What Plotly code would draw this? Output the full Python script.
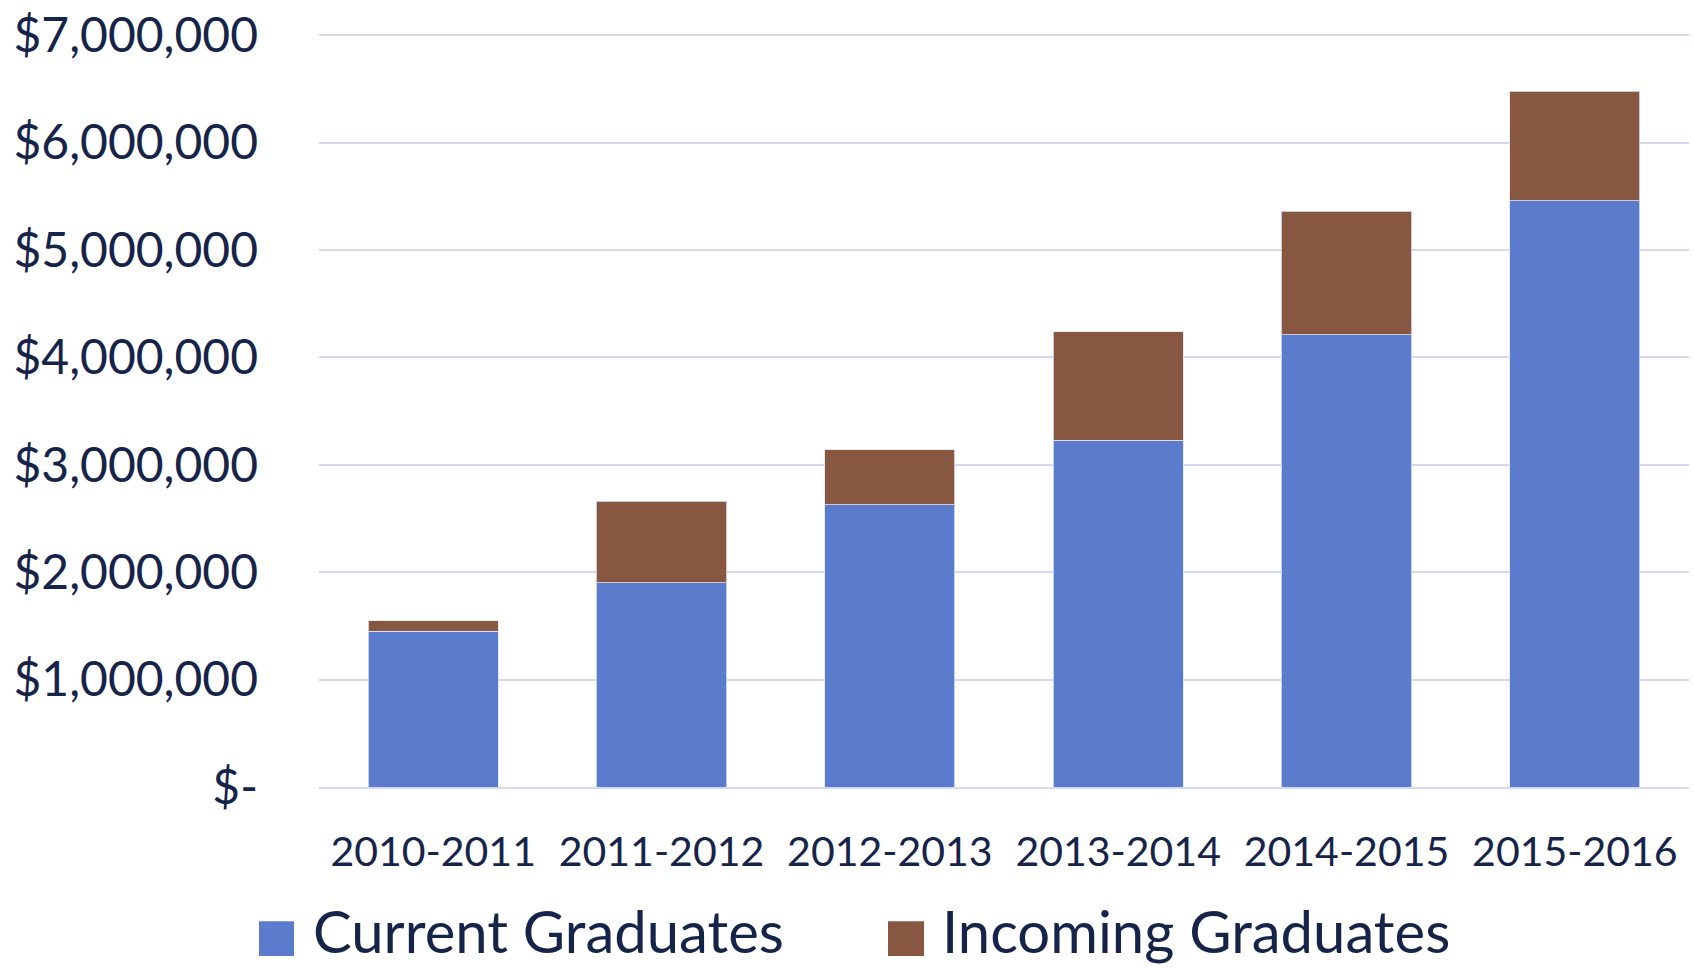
import plotly.graph_objects as go

# ---- data ----
years = ["2010-2011", "2011-2012", "2012-2013", "2013-2014", "2014-2015", "2015-2016"]
current_graduates = [1450000, 1900000, 2630000, 3230000, 4210000, 5460000]
incoming_graduates = [100000, 760000, 510000, 1010000, 1150000, 1020000]
series_names = ["Current Graduates", "Incoming Graduates"]
tick_values = [0, 1000000, 2000000, 3000000, 4000000, 5000000, 6000000, 7000000]
tick_labels = ["$-", "$1,000,000", "$2,000,000", "$3,000,000", "$4,000,000",
               "$5,000,000", "$6,000,000", "$7,000,000"]

BLUE = "#5B7CCC"
BROWN = "#875741"
TEXT = "#17244A"
GRID = "#D3DAF0"
FONT = "Lato"

W, H = 1694, 968
ML, MR, MT, MB = 319, 5, 28, 181
PW = W - ML - MR
PH = H - MT - MB

def px_to_paper_x(px):
    return (px - ML) / PW

def px_to_paper_y(py):
    return (H - MB - py) / PH

fig = go.Figure()
fig.add_trace(go.Bar(x=years, y=current_graduates, name=series_names[0],
                     marker=dict(color=BLUE, line=dict(color="rgba(225,228,245,0.8)", width=1)),
                     showlegend=False))
fig.add_trace(go.Bar(x=years, y=incoming_graduates, name=series_names[1],
                     marker=dict(color=BROWN, line=dict(color="rgba(225,228,245,0.8)", width=1)),
                     showlegend=False))

# manual legend (large squares as in the reference)
legend_items = [(259, 294, 311, BLUE), (888, 924, 940, BROWN)]
for (x0, x1, tx, col), name in zip(legend_items, series_names):
    fig.add_shape(type="rect", xref="paper", yref="paper",
                  x0=px_to_paper_x(x0), x1=px_to_paper_x(x1),
                  y0=px_to_paper_y(957), y1=px_to_paper_y(922),
                  fillcolor=col, line=dict(width=0))
    fig.add_annotation(text=name, xref="paper", yref="paper",
                       x=px_to_paper_x(tx), y=px_to_paper_y(931),
                       xanchor="left", yanchor="middle", showarrow=False,
                       font=dict(family=FONT, size=58, color=TEXT))

fig.update_layout(
    barmode="stack",
    bargap=0.43,
    width=W, height=H,
    margin=dict(l=ML, r=MR, t=MT, b=MB, pad=0),
    paper_bgcolor="white",
    plot_bgcolor="white",
    font=dict(family=FONT, color=TEXT),
    showlegend=False,
)
fig.update_yaxes(range=[0, 7030000], tickvals=tick_values, ticktext=tick_labels,
                 showgrid=True, gridcolor=GRID, gridwidth=2, zeroline=False,
                 showline=False, ticks="", ticklabelstandoff=60,
                 tickfont=dict(family=FONT, size=48, color=TEXT))
fig.update_xaxes(showgrid=False, showline=True, linecolor=GRID, linewidth=2,
                 ticks="", ticklabelstandoff=28,
                 tickfont=dict(family=FONT, size=41, color=TEXT))

fig.write_html("out.html", config={"displayModeBar": False},
               post_script="document.body.style.margin='0';document.body.style.overflow='hidden';")
